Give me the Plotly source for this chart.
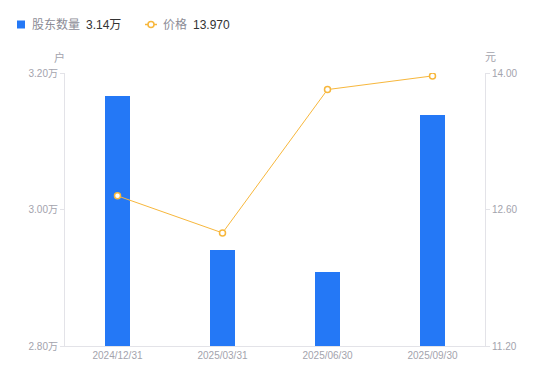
import plotly.graph_objects as go

categories = ["2024/12/31", "2025/03/31", "2025/06/30", "2025/09/30"]
holders_wan = [3.166, 2.941, 2.908, 3.138]
price = [12.74, 12.36, 13.83, 13.97]
left_ticks = [2.80, 3.00, 3.20]
right_ticks = [11.20, 12.60, 14.00]

FONT = "Liberation Sans, Noto Sans CJK SC, Arial, sans-serif"
BLUE = "#2478f6"
ORANGE = "#f7b73c"
GRAY = "#a3a3ad"
AXIS = "#e3e3e8"

L, R, T, B = 65, 485, 73, 346

fig = go.Figure()
fig.add_trace(go.Bar(x=categories, y=holders_wan, marker=dict(color=BLUE, line=dict(width=0)),
                     width=0.24, yaxis="y", showlegend=False))
fig.add_trace(go.Scatter(x=categories, y=price, mode="lines+markers", yaxis="y2",
                         line=dict(color=ORANGE, width=1),
                         marker=dict(symbol="circle", size=6, color="white",
                                     line=dict(color=ORANGE, width=1.5)),
                         showlegend=False))

tickfont = dict(family=FONT, size=10, color=GRAY)
fig.update_layout(
    width=550, height=381,
    margin=dict(l=L, r=550 - R, t=T, b=381 - B),
    paper_bgcolor="white", plot_bgcolor="white",
    font=dict(family=FONT),
    xaxis=dict(showgrid=False, showline=True, linecolor=AXIS, linewidth=1,
               ticks="", tickfont=tickfont, zeroline=False),
    yaxis=dict(range=[2.8, 3.2], tickvals=left_ticks,
               ticktext=[f"{v:.2f}万" for v in left_ticks],
               showgrid=False, showline=True, linecolor=AXIS, linewidth=1,
               ticks="outside", ticklen=4, tickcolor=AXIS, tickfont=tickfont, zeroline=False),
    yaxis2=dict(range=[11.2, 14.0], tickvals=right_ticks,
                ticktext=[f"{v:.2f}" for v in right_ticks],
                overlaying="y", side="right",
                showgrid=False, showline=True, linecolor=AXIS, linewidth=1,
                ticks="outside", ticklen=4, tickcolor=AXIS, tickfont=tickfont, zeroline=False),
    bargap=0,
)

def px_x(x):
    return (x - L) / (R - L)

def px_y(y):
    return (B - y) / (B - T)

def px_ann(text, x, y, color, size=12, xanchor="left"):
    fig.add_annotation(text=text, x=px_x(x), y=px_y(y), xref="paper", yref="paper",
                       showarrow=False, xanchor=xanchor, yanchor="middle",
                       font=dict(family=FONT, size=size, color=color))

px_ann("户", 59, 57, GRAY, 11, "center")
px_ann("元", 490, 57, GRAY, 11, "center")

# custom legend
legend_holders = f"{holders_wan[-1]:.2f}万"
legend_price = f"{price[-1]:.3f}"
fig.add_shape(type="rect", xref="paper", yref="paper",
              x0=px_x(17), x1=px_x(25), y0=px_y(28.5), y1=px_y(20.5),
              fillcolor=BLUE, line=dict(width=0))
px_ann("股东数量", 30, 25, "#8c8c96", 12)
px_ann(legend_holders, 84, 25, "#333333", 12)
fig.add_shape(type="line", xref="paper", yref="paper",
              x0=px_x(145), x1=px_x(157), y0=px_y(24.5), y1=px_y(24.5),
              line=dict(color=ORANGE, width=1.5))
fig.add_shape(type="circle", xref="paper", yref="paper",
              x0=px_x(148), x1=px_x(154), y0=px_y(27.5), y1=px_y(21.5),
              fillcolor="white", line=dict(color=ORANGE, width=1.5))
px_ann("价格", 161, 25, "#8c8c96", 12)
px_ann(legend_price, 191, 25, "#333333", 12)

fig.write_html("out.html")
